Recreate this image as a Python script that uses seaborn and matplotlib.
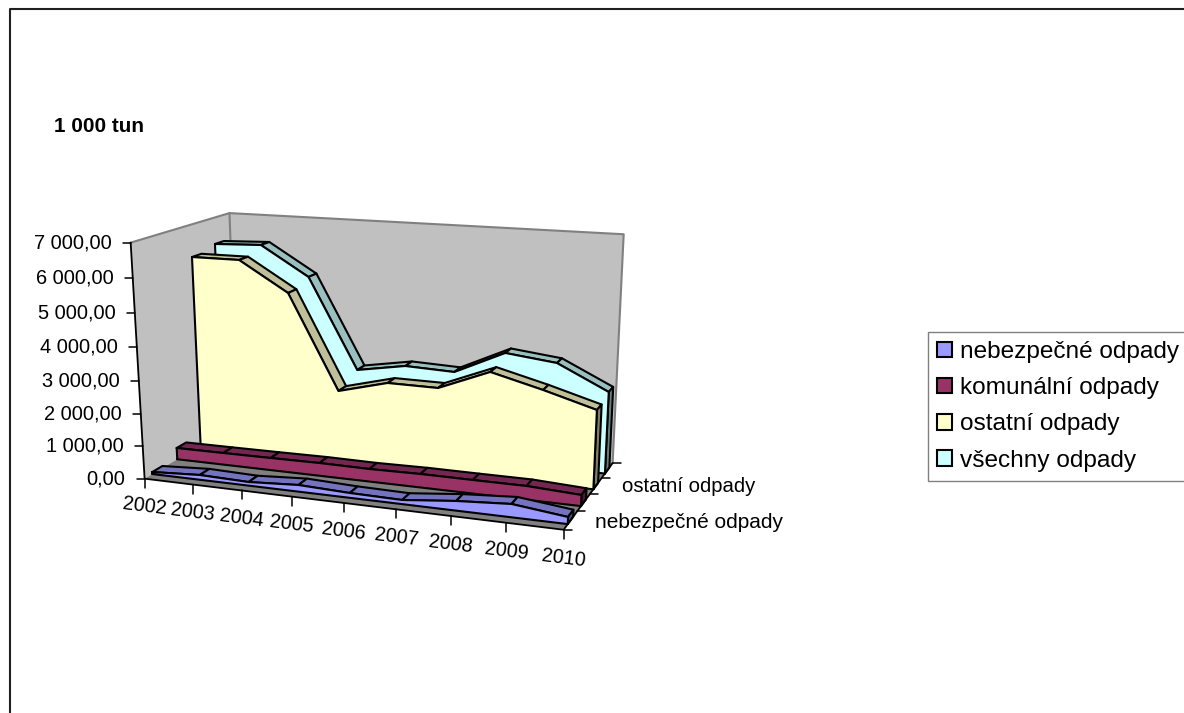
import matplotlib

matplotlib.use("Agg")
import matplotlib.pyplot as plt
import numpy as np
import pandas as pd
import seaborn as sns

YEARS = ["2002", "2003", "2004", "2005", "2006", "2007", "2008", "2009", "2010"]
HAZARDOUS = [64, 149, 112, 203, 146, 124, 284, 387, 205]
MUNICIPAL = [364, 372, 384, 400, 389, 413, 410, 412, 330]
OTHER = [6018, 6021, 5120, 2223, 2615, 2604, 3228, 2832, 2388]
ALL = [6178, 6235, 5333, 2510, 2773, 2720, 3443, 3269, 2526]
VALUE_TICKS = [0, 1000, 2000, 3000, 4000, 5000, 6000, 7000]
TICK_LABELS = ["0,00", "1 000,00", "2 000,00", "3 000,00", "4 000,00", "5 000,00", "6 000,00", "7 000,00"]

# (year index, depth, value) -> pixel, fitted from the corners of the chart box
BOX_CORNERS = [
    ((0, 0, 0), (143, 479)),
    ((0, 0, 7000), (132, 243)),
    ((0, 4, 7000), (228, 213)),
    ((0, 4, 0), (239, 423)),
    ((8, 4, 7000), (624, 234)),
    ((8, 4, 0), (612, 464)),
    ((8, 0, 0), (564, 529)),
]


def fit_camera(corners):
    rows, rhs = [], []
    for (x, d, v), (u, w) in corners:
        v = v / 7000
        rows.append([x, d, v, 1, 0, 0, 0, 0, -u * x, -u * d, -u * v])
        rhs.append(u)
        rows.append([0, 0, 0, 0, x, d, v, 1, -w * x, -w * d, -w * v])
        rhs.append(w)
    sol = np.linalg.lstsq(np.array(rows, float), np.array(rhs, float), rcond=None)[0]
    return np.append(sol, 1.0).reshape(3, 4)


CAMERA = fit_camera(BOX_CORNERS)


def project(x, d, v):
    point = CAMERA @ np.array([x, d, v / 7000, 1.0])
    return point[0] / point[2], point[1] / point[2]


sns.set_theme(style="white")
plt.rcParams["font.family"] = ["Liberation Sans", "DejaVu Sans"]

fig = plt.figure(figsize=(11.84, 7.13), dpi=100)
ax = fig.add_axes([0, 0, 1, 1])
ax.set_xlim(0, 1184)
ax.set_ylim(713, 0)
ax.axis("off")

order = [0]


def face(points, color):
    order[0] += 1
    ax.fill(*zip(*points), facecolor=color, edgecolor="none", zorder=order[0])


def outline(points, color="black", width=1.5):
    order[0] += 1
    frame = pd.DataFrame(points, columns=["sx", "sy"])
    sns.lineplot(data=frame, x="sx", y="sy", sort=False, estimator=None, color=color,
                 linewidth=width, ax=ax, legend=False, zorder=order[0], solid_capstyle="round")


# frame of the chart area, running off the picture to the right and the bottom
outline([(1184, 8.5), (9.5, 8.5), (9.5, 713)], color="#202020", width=1.5)

# walls and floor
wall_color = "#C0C0C0"
side = [project(0, 0, 0), project(0, 0, 7000), project(0, 4, 7000), project(0, 4, 0)]
back = [project(0, 4, 0), project(0, 4, 7000), project(8, 4, 7000), project(8, 4, 0)]
floor = [project(0, 0, 0), project(8, 0, 0), project(8, 4, 0), project(0, 4, 0)]
face(side, wall_color)
face(back, wall_color)
face(floor, "#808080")
outline([project(0, 0, 7000), project(0, 4, 7000), project(8, 4, 7000), project(8, 4, 0)], color="#808080", width=1.5)
outline([project(0, 4, 7000), project(0, 4, 0)], color="#808080", width=1.5)

# ribbons from the back of the box to the front
series = [
    (3, ALL, "#CCFFFF", "#99BFBF", "#668080"),
    (2, OTHER, "#FFFFCC", "#BFBF99", "#808066"),
    (1, MUNICIPAL, "#993366", "#732650", "#4D1A33"),
    (0, HAZARDOUS, "#9999FF", "#7373BF", "#4D4D80"),
]
for slot, values, front_color, top_color, end_color in series:
    d0, d1 = slot + 0.3, slot + 0.7
    for i in range(len(YEARS) - 1):
        top = [project(i, d0, values[i]), project(i + 1, d0, values[i + 1]),
               project(i + 1, d1, values[i + 1]), project(i, d1, values[i])]
        face(top, top_color)
        outline(top + top[:1])
    end = [project(8, d0, 0), project(8, d0, values[-1]), project(8, d1, values[-1]), project(8, d1, 0)]
    face(end, end_color)
    outline(end + end[:1])
    front = [project(0, d0, 0)] + [project(i, d0, val) for i, val in enumerate(values)] + [project(8, d0, 0)]
    face(front, front_color)
    outline(front + front[:1])

# axes
outline([project(0, 0, 7000), project(0, 0, 0), project(8, 0, 0), project(8, 4, 0)], color="black", width=1.3)
for value, label in zip(VALUE_TICKS, TICK_LABELS):
    px, py = project(0, 0, value)
    outline([(px - 8, py), (px, py)], width=1.1)
    ax.text(px - 19, py, label, ha="right", va="center", fontsize=14.4, color="black", zorder=500)

for i, year in enumerate(YEARS):
    px, py = project(i, 0, 0)
    outline([(px, py), (px, py + 9)], width=1.1)
    ax.text(px, py + 28, year, ha="center", va="center", fontsize=14.3, rotation=-7,
            color="black", zorder=500)
for d in range(5):
    px, py = project(8, d, 0)
    outline([(px, py), (px + 8, py)], width=1.1)

ax.text(595, 522.5, "nebezpečné odpady", ha="left", va="center", fontsize=15, color="black", zorder=500)
ax.text(622, 487, "ostatní odpady", ha="left", va="center", fontsize=14.6, color="black", zorder=500)
ax.text(54, 126, "1 000 tun", ha="left", va="center", fontsize=14.9, fontweight="bold", color="black", zorder=500)

# legend box and entries
handles = [plt.Rectangle((0, 0), 1, 1, facecolor=c, edgecolor="black", linewidth=1.5)
           for c in ["#9999FF", "#993366", "#FFFFCC", "#CCFFFF"]]
legend = ax.legend(handles, ["nebezpečné odpady", "komunální odpady", "ostatní odpady", "všechny odpady"],
                   loc="upper left", bbox_to_anchor=(928 / 1184, 1 - 332 / 713), borderaxespad=0,
                   fontsize=17.6, labelcolor="black", frameon=True, fancybox=False, edgecolor="#808080",
                   framealpha=1, handlelength=0.68, handleheight=0.6, handletextpad=0.27,
                   labelspacing=0.58, borderpad=0.37)
legend.set_zorder(600)
for handle in legend.legend_handles:
    handle.set_x(0)
    handle.set_width(10.5)

fig.savefig("out.png", dpi=100)
plt.close(fig)
